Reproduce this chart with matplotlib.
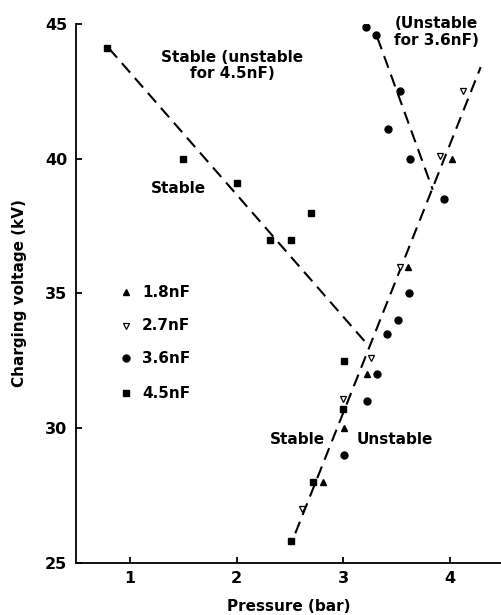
import numpy as np
import matplotlib.pyplot as plt

plt.rcParams['font.family'] = ['DejaVu Sans']
plt.rcParams['font.weight'] = 'bold'

# Data
p_18 = [4.02, 3.61, 3.22, 3.01, 2.81]
v_18 = [40.0, 36.0, 32.0, 30.0, 28.0]

p_27 = [4.12, 3.91, 3.53, 3.26, 3.00, 2.61]
v_27 = [42.5, 40.1, 36.0, 32.6, 31.1, 27.0]

p_36 = [3.21, 3.31, 3.53, 3.42, 3.63, 3.95, 3.62, 3.51, 3.41, 3.32, 3.22, 3.01]
v_36 = [44.9, 44.6, 42.5, 41.1, 40.0, 38.5, 35.0, 34.0, 33.5, 32.0, 31.0, 29.0]

p_45 = [0.78, 1.50, 2.00, 2.70, 2.31, 2.51, 3.01, 3.00, 2.72, 2.51]
v_45 = [44.1, 40.0, 39.1, 38.0, 37.0, 37.0, 32.5, 30.7, 28.0, 25.8]

# dashed boundary lines
line_a_p = [0.80, 3.24]
line_a_v = [44.1, 33.05]
line_b_p = [2.55, 4.29]
line_b_v = [26.1, 43.4]
line_c_p = [3.32, 3.84]
line_c_v = [44.5, 38.85]

fig = plt.figure(figsize=(5.02, 6.15), dpi=100)
ax = fig.add_axes([0.151, 0.0846, 0.849, 0.8764])

dash = (0, (6, 3.5))
ax.plot(line_a_p, line_a_v, color='black', lw=1.5, linestyle=dash)
ax.plot(line_b_p, line_b_v, color='black', lw=1.5, linestyle=dash)
ax.plot(line_c_p, line_c_v, color='black', lw=1.5, linestyle=dash)

ax.plot(p_18, v_18, '^', color='black', ms=5, ls='none')
ax.plot(p_27, v_27, 'v', mfc='white', mec='black', mew=0.9, ms=5, ls='none')
ax.plot(p_36, v_36, 'o', color='black', ms=5, ls='none')
ax.plot(p_45, v_45, 's', color='black', ms=4.5, ls='none')

# legend drawn as in the original
leg_v = [35.05, 33.8, 32.6, 31.3]
leg_labels = ['1.8nF', '2.7nF', '3.6nF', '4.5nF']
ax.plot(0.96, leg_v[0], '^', color='black', ms=5)
ax.plot(0.96, leg_v[1], 'v', mfc='white', mec='black', mew=0.9, ms=5)
ax.plot(0.96, leg_v[2], 'o', color='black', ms=5)
ax.plot(0.96, leg_v[3], 's', color='black', ms=4.5)
for v, lab in zip(leg_v, leg_labels):
    ax.text(1.11, v, lab, fontsize=11, va='center', ha='left')

ax.text(1.96, 43.45, 'Stable (unstable\nfor 4.5nF)', fontsize=11, ha='center', va='center',
        linespacing=1.1)
ax.text(3.87, 44.7, '(Unstable\nfor 3.6nF)', fontsize=11, ha='center', va='center',
        linespacing=1.1)
ax.text(1.45, 38.9, 'Stable', fontsize=11, ha='center', va='center')
ax.text(2.57, 29.6, 'Stable', fontsize=11, ha='center', va='center')
ax.text(3.48, 29.6, 'Unstable', fontsize=11, ha='center', va='center')

ax.set_xlim(0.49, 4.49)
ax.set_ylim(25, 45)
ax.set_xticks([1, 2, 3, 4])
ax.set_yticks([25, 30, 35, 40, 45])
ax.spines['top'].set_visible(False)
ax.spines['right'].set_visible(False)
ax.spines['left'].set_linewidth(1.3)
ax.spines['bottom'].set_linewidth(1.3)
ax.tick_params(direction='in', length=4, width=1.3, labelsize=11.5, pad=6)
ax.set_xlabel('Pressure (bar)', fontsize=11, fontweight='bold', labelpad=9)
ax.set_ylabel('Charging voltage (kV)', fontsize=11, fontweight='bold', labelpad=13)

fig.savefig('out.png', dpi=100)
